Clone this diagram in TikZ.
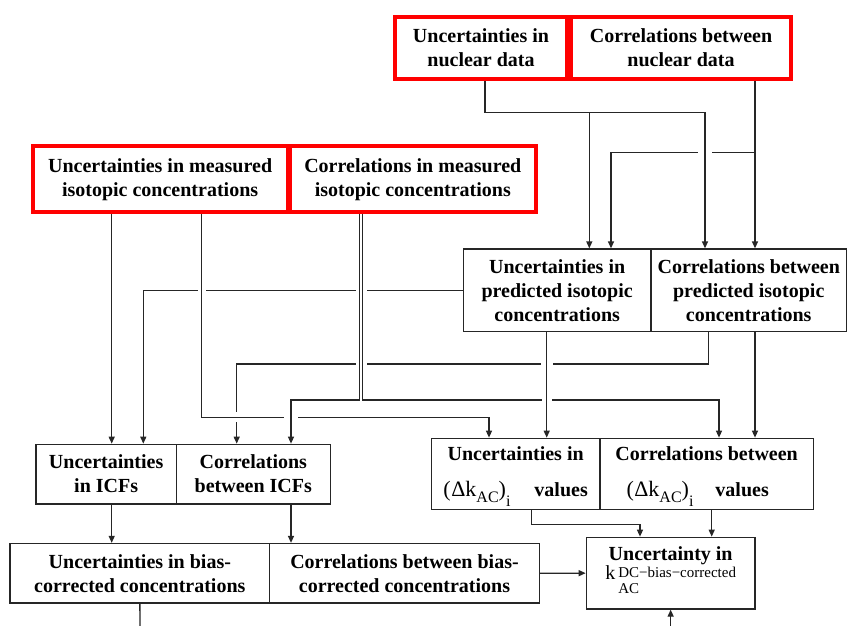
\documentclass[tikz,border=0pt]{standalone}
\usepackage{fontspec}
\setmainfont{Liberation Serif}
\usetikzlibrary{arrows.meta}
\newcommand\bigfnt{\fontsize{20}{24}\selectfont}
\newcommand\smfnt{\fontsize{15}{15}\selectfont}
\newcommand\subfnt{\fontsize{16}{16}\selectfont}
\newcommand\dkterm{{\mdseries\fontsize{22}{24}\selectfont(\kern0.5ptΔk\raisebox{-6pt}[0pt][0pt]{\subfnt AC})\raisebox{-10pt}[0pt][0pt]{\subfnt i}}}
\newcommand\hgap[3]{%
  \draw[white, line width=4pt] ({#1-#3},#2) -- ({#1+#3},#2);
  \draw[conn] (#1,{#2-4}) -- (#1,{#2+4});}
\newcommand\vgap[3]{%
  \draw[white, line width=4pt] (#1,{#2-#3}) -- (#1,{#2+#3});
  \draw[conn] ({#1-4},#2) -- ({#1+4},#2);}
\tikzset{
  redbox/.style={draw=red, line width=4pt, inner sep=0pt, align=center, font=\bigfnt\bfseries, text=black},
  blkbox/.style={draw=black!85, line width=1.3pt, inner sep=0pt, align=center, font=\bigfnt\bfseries, text=black},
  conn/.style={draw=black!85, line width=1.3pt},
  arr/.style={conn, -{Triangle[length=7pt,width=6pt]}},
}
\begin{document}
\begin{tikzpicture}[x=1pt, y=-1pt]
\useasboundingbox (0,0) rectangle (849,626);
\fill[white] (0,0) rectangle (849,626);

% input boxes (red)
\node[redbox, minimum width=172pt, minimum height=62pt] (nu) at (481,48) {Uncertainties in\\nuclear data};
\node[redbox, minimum width=220pt, minimum height=62pt] (nc) at (681,48) {Correlations between\\nuclear data};
\node[redbox, minimum width=255.2pt, minimum height=65.5pt] (mu) at (160.1,179.2) {Uncertainties in measured\\isotopic concentrations};
\node[redbox, minimum width=245.4pt, minimum height=65.5pt] (mc) at (412.8,179.2) {Correlations in measured\\isotopic concentrations};

% black boxes
\node[blkbox, minimum width=187.7pt, minimum height=82.5pt] (pu) at (557.15,290.25) {Uncertainties in\\predicted isotopic\\concentrations};
\node[blkbox, minimum width=195.5pt, minimum height=82.5pt] (pc) at (748.75,290.25) {Correlations between\\predicted isotopic\\concentrations};
\node[blkbox, minimum width=140.3pt, minimum height=59.7pt] (iu) at (106.15,474.15) {Uncertainties\\in ICFs};
\node[blkbox, minimum width=154pt, minimum height=59.7pt] (ic) at (253.3,474.15) {Correlations\\between ICFs};
\node[blkbox, minimum width=259.7pt, minimum height=59.5pt] (bu) at (139.85,573.25) {Uncertainties in bias-\\corrected concentrations};
\node[blkbox, minimum width=269.6pt, minimum height=59.5pt] (bc) at (404.5,573.25) {Correlations between bias-\\corrected concentrations};
\node[blkbox, minimum width=168.7pt, minimum height=71.4pt] (du) at (515.65,474) {Uncertainties in\\[12pt]\mbox{\dkterm\hspace{24pt}values}};
\node[blkbox, minimum width=213.3pt, minimum height=71.4pt] (dc) at (706.65,474) {Correlations between\\[12pt]\mbox{\dkterm\hspace{22pt}values\hspace{18pt}}};
\node[blkbox, minimum width=168.7pt, minimum height=71.7pt] (kb) at (670.65,573.15) {Uncertainty in\\[-5pt]\mbox{\mdseries k\kern3pt\rlap{\raisebox{2.5pt}[0pt][0pt]{\smfnt DC−bias−corrected}}\rlap{\raisebox{-14pt}[0pt][0pt]{\smfnt AC}}\phantom{\smfnt DC−bias−corrected}\rule[-20pt]{0pt}{20pt}}};

% junctions and free ends
\coordinate (jA) at (589.3,112.3);
\coordinate (jB) at (755,152.3);
\coordinate (outB) at (140,626);
\coordinate (inK) at (670.65,626);

% connectors
\draw[arr] (485,0 |- nu.south) |- (705,112.3) -- (705,0 |- pc.north);
\draw[arr] (jA) -- (589.3,0 |- pu.north);
\draw[arr] (755,0 |- nc.south) -- (755,0 |- pc.north);
\draw[arr] (jB) -| (611,0 |- pu.north);

\draw[arr] (111.7,0 |- mu.south) -- (111.7,0 |- iu.north);
\draw[arr] (201.8,0 |- mu.south) |- (489,417.3) -- (489,0 |- du.north);
\draw[arr] (359.3,0 |- mc.south) |- (291,400) -- (291,0 |- ic.north);
\draw[arr] (362.7,0 |- mc.south) |- (719,400) -- (719,0 |- dc.north);

\draw[arr] (pu.west) -| (143.3,0 |- iu.north);
\draw[arr] (546.7,0 |- pu.south) -- (546.7,0 |- du.north);
\draw[arr] (708.3,0 |- pc.south) |- (236.7,364) -- (236.7,0 |- ic.north);
\draw[arr] (755,0 |- pc.south) -- (755,0 |- dc.north);

\draw[arr] (111.7,0 |- iu.south) -- (111.7,0 |- bu.north);
\draw[arr] (291,0 |- ic.south) -- (291,0 |- bc.north);
\draw[arr] (bc.east) -- (kb.west);
\draw[arr] (531.7,0 |- du.south) |- (640,524.3) -- (640,0 |- kb.north);
\draw[arr] (711.7,0 |- dc.south) -- (711.7,0 |- kb.north);
\draw[conn] (bu.south) -- (outB);
\draw[arr] (inK) -- (kb.south);

% line crossings (gaps)
\hgap{705}{152.3}{7}
\hgap{201.8}{290.25}{4}
\hgap{546.7}{364}{6}
\hgap{546.7}{400}{5}
\hgap{291}{417.3}{7}
\vgap{236.7}{417.3}{5}
\draw[white, line width=4pt] (355.5,290.25) -- (366.5,290.25);
\draw[white, line width=4pt] (355.5,364) -- (366.5,364);
\draw[conn] (359.3,285) -- (359.3,295);
\draw[conn] (362.7,285) -- (362.7,295);
\draw[conn] (359.3,359) -- (359.3,369);
\draw[conn] (362.7,359) -- (362.7,369);
\end{tikzpicture}
\end{document}
